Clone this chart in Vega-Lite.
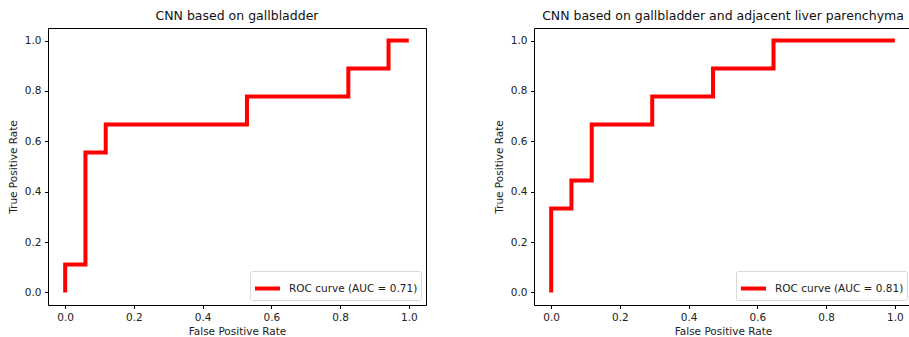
{
  "$schema": "https://vega.github.io/schema/vega-lite/v6.json",
  "background": "white",
  "padding": {"left": 7, "top": 9, "right": 0, "bottom": 0},
  "spacing": 66,
  "config": {
    "font": "DejaVu Sans",
    "view": {"stroke": "black", "strokeWidth": 1},
    "axis": {
      "grid": false, "domain": false, "tickColor": "black", "tickSize": 3.5,
      "labelFontSize": 10.5, "labelColor": "#222", "titleFontSize": 10.5,
      "titleFontWeight": "normal", "titleColor": "#222", "labelPadding": 3.5,
      "labelFont": "DejaVu Sans", "titleFont": "DejaVu Sans"
    },
    "title": {"fontSize": 12.5, "fontWeight": "normal", "font": "DejaVu Sans", "color": "#111", "offset": 6},
    "legend": {"labelFont": "DejaVu Sans", "labelFontSize": 10.5, "labelColor": "#222"}
  },
  "datasets": {
    "left": [
      {"i": 0, "fpr": 0.0, "tpr": 0.0, "label": "ROC curve (AUC = 0.71)"},
      {"i": 1, "fpr": 0.0, "tpr": 0.111, "label": "ROC curve (AUC = 0.71)"},
      {"i": 2, "fpr": 0.059, "tpr": 0.111, "label": "ROC curve (AUC = 0.71)"},
      {"i": 3, "fpr": 0.059, "tpr": 0.556, "label": "ROC curve (AUC = 0.71)"},
      {"i": 4, "fpr": 0.118, "tpr": 0.556, "label": "ROC curve (AUC = 0.71)"},
      {"i": 5, "fpr": 0.118, "tpr": 0.667, "label": "ROC curve (AUC = 0.71)"},
      {"i": 6, "fpr": 0.529, "tpr": 0.667, "label": "ROC curve (AUC = 0.71)"},
      {"i": 7, "fpr": 0.529, "tpr": 0.778, "label": "ROC curve (AUC = 0.71)"},
      {"i": 8, "fpr": 0.824, "tpr": 0.778, "label": "ROC curve (AUC = 0.71)"},
      {"i": 9, "fpr": 0.824, "tpr": 0.889, "label": "ROC curve (AUC = 0.71)"},
      {"i": 10, "fpr": 0.941, "tpr": 0.889, "label": "ROC curve (AUC = 0.71)"},
      {"i": 11, "fpr": 0.941, "tpr": 1.0, "label": "ROC curve (AUC = 0.71)"},
      {"i": 12, "fpr": 1.0, "tpr": 1.0, "label": "ROC curve (AUC = 0.71)"}
    ],
    "right": [
      {"i": 0, "fpr": 0.0, "tpr": 0.0, "label": "ROC curve (AUC = 0.81)"},
      {"i": 1, "fpr": 0.0, "tpr": 0.333, "label": "ROC curve (AUC = 0.81)"},
      {"i": 2, "fpr": 0.059, "tpr": 0.333, "label": "ROC curve (AUC = 0.81)"},
      {"i": 3, "fpr": 0.059, "tpr": 0.444, "label": "ROC curve (AUC = 0.81)"},
      {"i": 4, "fpr": 0.118, "tpr": 0.444, "label": "ROC curve (AUC = 0.81)"},
      {"i": 5, "fpr": 0.118, "tpr": 0.667, "label": "ROC curve (AUC = 0.81)"},
      {"i": 6, "fpr": 0.294, "tpr": 0.667, "label": "ROC curve (AUC = 0.81)"},
      {"i": 7, "fpr": 0.294, "tpr": 0.778, "label": "ROC curve (AUC = 0.81)"},
      {"i": 8, "fpr": 0.471, "tpr": 0.778, "label": "ROC curve (AUC = 0.81)"},
      {"i": 9, "fpr": 0.471, "tpr": 0.889, "label": "ROC curve (AUC = 0.81)"},
      {"i": 10, "fpr": 0.647, "tpr": 0.889, "label": "ROC curve (AUC = 0.81)"},
      {"i": 11, "fpr": 0.647, "tpr": 1.0, "label": "ROC curve (AUC = 0.81)"},
      {"i": 12, "fpr": 1.0, "tpr": 1.0, "label": "ROC curve (AUC = 0.81)"}
    ]
  },
  "resolve": {"scale": {"color": "independent"}, "legend": {"color": "independent"}},
  "hconcat": [
    {
      "width": 378, "height": 277,
      "title": "CNN based on gallbladder",
      "data": {"name": "left"},
      "mark": {"type": "line", "strokeWidth": 4, "strokeJoin": "miter", "strokeCap": "butt"},
      "encoding": {
        "x": {"field": "fpr", "type": "quantitative", "title": "False Positive Rate",
              "scale": {"domain": [-0.05, 1.05], "nice": false, "zero": false},
              "axis": {"values": [0, 0.2, 0.4, 0.6, 0.8, 1.0], "format": ".1f", "titlePadding": 4}},
        "y": {"field": "tpr", "type": "quantitative", "title": "True Positive Rate",
              "scale": {"domain": [-0.05, 1.05], "nice": false, "zero": false},
              "axis": {"values": [0, 0.2, 0.4, 0.6, 0.8, 1.0], "format": ".1f", "titlePadding": 6}},
        "order": {"field": "i", "type": "quantitative"},
        "color": {"field": "label", "type": "nominal", "scale": {"range": ["#ff0000"]},
                  "legend": {"title": null, "orient": "bottom-right", "offset": 5, "symbolType": "stroke",
                             "symbolStrokeWidth": 4, "symbolSize": 625, "strokeColor": "#d9d9d9",
                             "fillColor": "white", "padding": 3, "cornerRadius": 2, "labelOffset": 7}}
      }
    },
    {
      "width": 378, "height": 277,
      "title": "CNN based on gallbladder and adjacent liver parenchyma",
      "data": {"name": "right"},
      "mark": {"type": "line", "strokeWidth": 4, "strokeJoin": "miter", "strokeCap": "butt"},
      "encoding": {
        "x": {"field": "fpr", "type": "quantitative", "title": "False Positive Rate",
              "scale": {"domain": [-0.05, 1.05], "nice": false, "zero": false},
              "axis": {"values": [0, 0.2, 0.4, 0.6, 0.8, 1.0], "format": ".1f", "titlePadding": 4}},
        "y": {"field": "tpr", "type": "quantitative", "title": "True Positive Rate",
              "scale": {"domain": [-0.05, 1.05], "nice": false, "zero": false},
              "axis": {"values": [0, 0.2, 0.4, 0.6, 0.8, 1.0], "format": ".1f", "titlePadding": 6}},
        "order": {"field": "i", "type": "quantitative"},
        "color": {"field": "label", "type": "nominal", "scale": {"range": ["#ff0000"]},
                  "legend": {"title": null, "orient": "bottom-right", "offset": 5, "symbolType": "stroke",
                             "symbolStrokeWidth": 4, "symbolSize": 625, "strokeColor": "#d9d9d9",
                             "fillColor": "white", "padding": 3, "cornerRadius": 2, "labelOffset": 7}}
      }
    }
  ]
}
